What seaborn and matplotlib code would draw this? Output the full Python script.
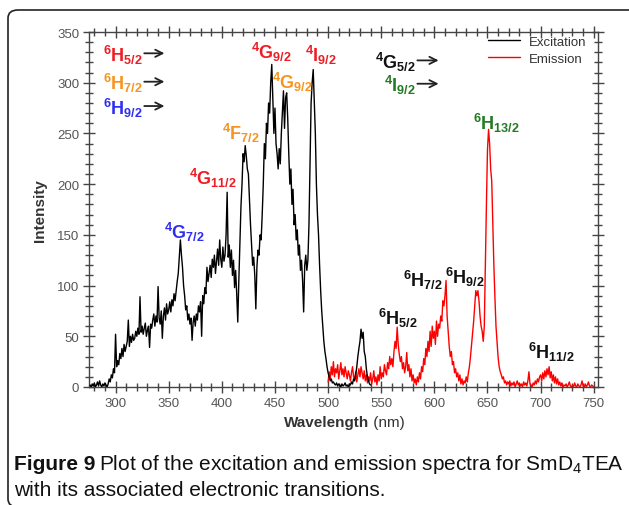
import numpy as np
import pandas as pd
import matplotlib
matplotlib.use("Agg")
import matplotlib.pyplot as plt
from matplotlib.patches import FancyBboxPatch
import seaborn as sns

# ---------------- data ----------------
exc_start = 276
excitation = [
    2, 0, 3, 1, 4, 0, 2, 5, 1, 6,
    2, 0, 3, 1, 4, 2, 0, 3, 8, 5,
    12, 9, 18, 14, 52, 20, 26, 22, 33, 28,
    38, 30, 42, 35, 40, 45, 66, 40, 50, 44,
    52, 46, 48, 55, 50, 58, 52, 89, 54, 60,
    52, 58, 63, 50, 56, 60, 39, 62, 58, 66,
    72, 60, 70, 64, 99, 68, 62, 75, 48, 70,
    78, 66, 82, 72, 76, 84, 74, 86, 80, 92,
    85, 95, 104, 112, 128, 145, 130, 118, 100, 90,
    76, 80, 66, 72, 62, 68, 46, 64, 70, 60,
    72, 66, 80, 74, 84, 50, 90, 82, 98, 92,
    118, 104, 112, 120, 108, 126, 118, 130, 112, 124,
    136, 120, 145, 126, 118, 138, 124, 130, 150, 192,
    128, 140, 118, 135, 110, 125, 98, 115, 92, 64,
    105, 140, 178, 200, 230, 222, 238, 228, 215, 210,
    185, 160, 140, 120, 128, 110, 77, 118, 135, 130,
    150, 145, 170, 200, 240, 225, 260, 250, 280, 270,
    300, 318, 285, 250, 275, 240, 230, 215, 235, 220,
    250, 270, 292, 255, 285, 290, 265, 230, 200, 215,
    180, 195, 160, 170, 145, 155, 130, 140, 115, 125,
    105, 74, 120, 130, 115, 125, 160, 220, 280, 300,
    313, 280, 250, 200, 170, 150, 120, 95, 75, 60,
    45, 35, 28, 20, 14, 10, 6, 8, 4, 5,
    3, 2, 4, 1, 3, 2, 0, 3, 1, 2,
    4, 1, 2, 0, 3, 2, 5, 3, 8, 6,
    12, 20, 30, 38, 45, 57, 48, 54, 35, 30,
    18, 10, 6, 3, 2,
]
em_start = 500
emission = [
    5, 15, 8, 20, 12, 25, 10, 18, 14, 22,
    8, 16, 24, 12, 18, 10, 20, 14, 8, 16,
    12, 6, 14, 20, 10, 8, 15, 5, 12, 18,
    10, 20, 14, 8, 16, 6, 12, 4, 10, 6,
    14, 3, 8, 16, 5, 10, 2, 12, 6, 20,
    8, 14, 10, 22, 16, 12, 24, 18, 30, 22,
    28, 20, 35, 45, 38, 59, 42, 32, 25, 30,
    18, 24, 14, 20, 34, 16, 22, 10, 18, 6,
    12, 4, 8, 2, 10, 5, 14, 8, 20, 15,
    28, 22, 38, 30, 45, 35, 55, 40, 60, 48,
    55, 42, 65, 50, 62, 58, 70, 65, 85, 80,
    90, 105, 70, 55, 40, 30, 35, 22, 25, 14,
    18, 10, 14, 6, 12, 3, 8, 2, 6, 4,
    10, 5, 14, 20, 30, 42, 55, 65, 80, 95,
    90, 95, 85, 70, 60, 55, 45, 60, 121, 180,
    234, 254, 240, 215, 203, 160, 120, 88, 60, 45,
    29, 20, 15, 12, 8, 10, 4, 6, 2, 5,
    3, 6, 1, 4, 2, 5, 0, 3, 6, 2,
    4, 1, 3, 0, 5, 2, 4, 1, 6, 15,
    3, 2, 0, 4, 2, 6, 3, 8, 5, 10,
    12, 6, 14, 8, 16, 10, 18, 12, 20, 9,
    15, 6, 12, 4, 10, 3, 8, 2, 5, 1,
    4, 0, 2, 1, 3, 0, 2, 5, 1, 0,
    2, 0, 4, 1, 0, 3, 1, 0, 2, 6,
    1, 0, 3, 0, 2, 5, 1, 0, 2, 1,
    0,
]
series_names = ["Excitation", "Emission"]
x_ticks = [300, 350, 400, 450, 500, 550, 600, 650, 700, 750]
y_ticks = [0, 50, 100, 150, 200, 250, 300, 350]

# annotation labels: (sup, letter, sub, x, y, color, ha)
RED, ORG, BLU, GRN, BLK = "#ee1c24", "#f7941d", "#2e2ef0", "#237a23", "#111111"
annotations = [
    ("6", "H", "5/2", 326, 328, RED, "right"),
    ("6", "H", "7/2", 326, 300, ORG, "right"),
    ("6", "H", "9/2", 326, 276, BLU, "right"),
    ("4", "G", "7/2", 365, 153, BLU, "center"),
    ("4", "G", "11/2", 392, 207, RED, "center"),
    ("4", "F", "7/2", 418, 251, ORG, "center"),
    ("4", "G", "9/2", 447, 331, RED, "center"),
    ("4", "G", "9/2", 466, 301, ORG, "center"),
    ("4", "I", "9/2", 493, 328, RED, "center"),
    ("4", "G", "5/2", 583, 321, BLK, "right"),
    ("4", "I", "9/2", 583, 298, GRN, "right"),
    ("6", "H", "13/2", 658, 261, GRN, "center"),
    ("6", "H", "5/2", 566, 69, BLK, "center"),
    ("6", "H", "7/2", 589, 106, BLK, "center"),
    ("6", "H", "9/2", 629, 109, BLK, "center"),
    ("6", "H", "11/2", 710, 35, BLK, "center"),
]
# transition arrows: (start x, end x, y)
arrows = [(327, 346, 329), (327, 346, 301), (327, 346, 277),
          (584, 604, 322), (584, 604, 299)]

exc_df = pd.DataFrame({"Wavelength": np.arange(exc_start, exc_start + len(excitation)),
                       "Intensity": excitation, "Spectrum": series_names[0]})
em_df = pd.DataFrame({"Wavelength": np.arange(em_start, em_start + len(emission)),
                      "Intensity": emission, "Spectrum": series_names[1]})
df = pd.concat([exc_df, em_df], ignore_index=True)

# ---------------- figure ----------------
sns.set_theme(style="white")
plt.rcParams["font.family"] = ["Liberation Sans", "DejaVu Sans"]
plt.rcParams["mathtext.fontset"] = "custom"
plt.rcParams["mathtext.rm"] = "Liberation Sans"
plt.rcParams["mathtext.it"] = "Liberation Sans:italic"
plt.rcParams["mathtext.bf"] = "Liberation Sans:bold"

W, H = 629, 506
fig = plt.figure(figsize=(W / 100, H / 100), dpi=100)

# rounded frame
frame = FancyBboxPatch((8 / W, (H - 508) / H), (700 - 8) / W, (508 - 11) / H,
                       boxstyle="round,pad=0,rounding_size=0.016",
                       transform=fig.transFigure, fill=False, lw=1.2,
                       edgecolor="#222222", clip_on=False)
fig.patches.append(frame)

ax = fig.add_axes([89 / W, 1 - 388 / H, (598 - 89) / W, (388 - 33) / H])
sns.lineplot(data=df, x="Wavelength", y="Intensity", hue="Spectrum",
             palette={"Excitation": "black", "Emission": "#ff0000"},
             estimator=None, sort=False, lw=1.0, ax=ax, legend=True)
ax.lines[0].set_zorder(3)

ax.set_xlim(275, 754)
ax.set_ylim(0, 350)
ax.set_xticks(x_ticks)
ax.set_yticks(y_ticks)
ax.set_xticks(np.arange(280, 755, 10), minor=True)
ax.set_yticks(np.arange(0, 351, 10), minor=True)
ax.tick_params(which="both", direction="inout", top=True, right=True,
               bottom=True, left=True, color="#444444", width=1.0,
               labelsize=9.5, labelcolor="#555555", pad=3)
ax.tick_params(which="major", length=8)
ax.tick_params(which="minor", length=6)
for s in ax.spines.values():
    s.set_color("#444444")
    s.set_linewidth(1.0)

ax.set_xlabel("")
ax.set_ylabel("")
split = 369 / W
fig.text(split, 1 - 423 / H, "Wavelength", ha="right", va="center",
         fontsize=11, fontweight="bold", color="#333333")
fig.text(split, 1 - 423 / H, " (nm)", ha="left", va="center",
         fontsize=11, color="#333333")
fig.text(40 / W, 1 - 211 / H, "Intensity", rotation=90, ha="center", va="center",
         fontsize=11, fontweight="bold", color="#333333")

leg = ax.legend(loc="upper right", frameon=False, fontsize=9.5, handlelength=2.4,
                borderaxespad=0, borderpad=0, labelspacing=0.36, handletextpad=0.7,
                bbox_to_anchor=(0.977, 0.99))
for t in leg.get_texts():
    t.set_color("#333333")

for sup, letter, sub, x, y, c, ha in annotations:
    s = r"$^{\mathbf{%s}}$%s$_{\mathbf{%s}}$" % (sup, letter, sub)
    ax.text(x, y, s, color=c, ha=ha, va="center", fontsize=13, fontweight="bold")

for x0, x1, y in arrows:
    ax.annotate("", xy=(x1, y), xytext=(x0, y),
                arrowprops=dict(arrowstyle="->", color="#222222", lw=1.3,
                                mutation_scale=13, shrinkA=0, shrinkB=0))

# caption
fig.text(14 / W, 1 - 465 / H, "Figure 9", fontsize=15, fontweight="bold",
         ha="left", va="center", color="#111111")
fig.text(99 / W, 1 - 465 / H,
         "Plot of the excitation and emission spectra for SmD$_4$TEA",
         fontsize=15, ha="left", va="center", color="#111111")
fig.text(14 / W, 1 - 491 / H, "with its associated electronic transitions.",
         fontsize=15, ha="left", va="center", color="#111111")

fig.savefig("out.png", dpi=100)
